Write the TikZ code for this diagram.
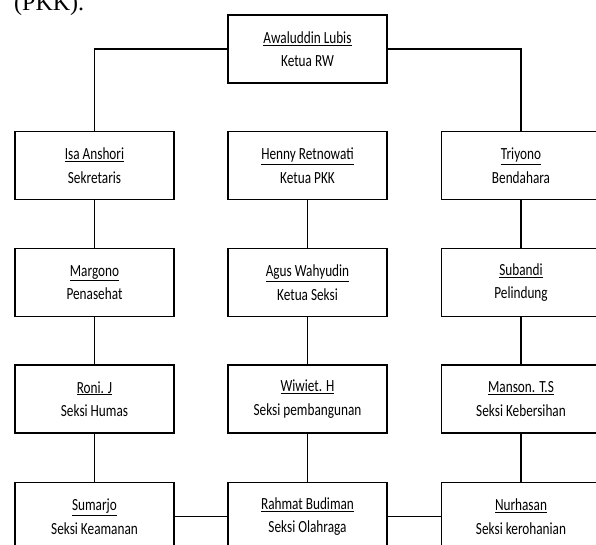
\documentclass[tikz,border=0pt]{standalone}
\usepackage{fontspec}
\setmainfont{Carlito}[FakeStretch=0.78]
\newfontfamily\serifhead{Liberation Serif}
\begin{document}
\begin{tikzpicture}[x=1pt,y=-1pt,
  box/.style={draw, line width=1.8pt, minimum width=159pt, minimum height=68pt,
    align=center, inner sep=0pt, font=\fontsize{17}{23.5}\selectfont},
  conn/.style={line width=1.6pt}]
\useasboundingbox (0,0) rectangle (596,545);
\node[anchor=base west, inner sep=0pt, font=\serifhead\fontsize{24}{24}\selectfont] (pkk) at (14,11) {(PKK).};
\node[box] (top) at (307.5,49.2) {\underline{Awaluddin Lubis}\\Ketua RW};
% row 1
\node[box] (a1) at (94.5,165.6) {\underline{Isa Anshori}\\Sekretaris};
\node[box] (b1) at (307.5,165.6) {\underline{Henny Retnowati}\\Ketua PKK};
\node[box] (c1) at (521,165.6) {\underline{Triyono}\\Bendahara};
% row 2
\node[box] (a2) at (94.5,282.5) {\underline{Margono}\\Penasehat};
\node[box] (b2) at (307.5,282.5) {\underline{Agus Wahyudin}\\Ketua Seksi};
\node[box] (c2) at (521,282.5) {\underline{Subandi}\\Pelindung};
% row 3
\node[box] (a3) at (94.5,399) {\underline{Roni. J}\\Seksi Humas};
\node[box] (b3) at (307.5,399) {\underline{Wiwiet. H}\\Seksi pembangunan};
\node[box] (c3) at (521,399) {\underline{Manson. T.S}\\Seksi Kebersihan};
% row 4
\node[box] (a4) at (94.5,516.5) {\underline{Sumarjo}\\Seksi Keamanan};
\node[box] (b4) at (307.5,516.5) {\underline{Rahmat Budiman}\\Seksi Olahraga};
\node[box] (c4) at (521,516.5) {\underline{Nurhasan}\\Seksi kerohanian};
% connectors
\draw[conn] (top.west) -| (a1.north);
\draw[conn] (top.east) -| (c1.north);
\foreach \c in {a,b,c}{
  \draw[conn] (\c1.south) -- (\c2.north);
  \draw[conn] (\c2.south) -- (\c3.north);
  \draw[conn] (\c3.south) -- (\c4.north);
}
\draw[conn] (a4.east) -- (b4.west);
\draw[conn] (b4.east) -- (c4.west);
\end{tikzpicture}
\end{document}
